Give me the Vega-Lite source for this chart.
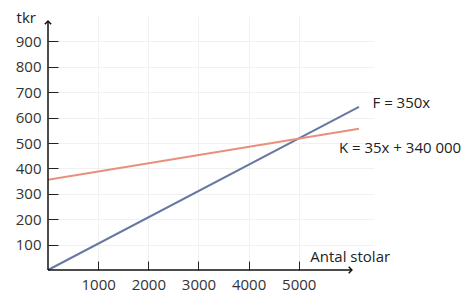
{
  "$schema": "https://vega.github.io/schema/vega-lite/v6.json",
  "width": 326,
  "height": 254,
  "autosize": {"type": "none"},
  "padding": {"left": 48, "top": 16, "right": 102, "bottom": 28},
  "background": "white",
  "config": {
    "view": {"stroke": null},
    "font": "Open Sans",
    "axis": {"labelOverlap": false, "labelSeparation": 0, "labelBound": false, "labelFlush": false}
  },
  "datasets": {
    "lines": [
      {"x": 0, "y": 0, "s": "F"},
      {"x": 6200, "y": 642, "s": "F"},
      {"x": 0, "y": 355, "s": "K"},
      {"x": 6200, "y": 556, "s": "K"}
    ],
    "axes": [
      {"x": 0, "y": 0, "x2": 6059, "y2": 0},
      {"x": 0, "y": 0, "x2": 0, "y2": 980}
    ],
    "arrowsY": [{"x": 0, "y": 980}],
    "arrowsX": [{"x": 6059, "y": 0}],
    "labels": [
      {"x": 6470, "y": 659, "t": "F = 350x"},
      {"x": 5800, "y": 482, "t": "K = 35x + 340 000"},
      {"x": 5230, "y": 53, "t": "Antal stolar"},
      {"x": -627, "y": 992, "t": "tkr"}
    ]
  },
  "layer": [
    {
      "data": {"name": "lines"},
      "mark": {"type": "line", "strokeWidth": 2},
      "encoding": {
        "x": {
          "field": "x", "type": "quantitative",
          "scale": {"domain": [0, 6400]},
          "axis": {
            "values": [1000, 2000, 3000, 4000, 5000], "format": "d", "tickCount": 10,
            "domain": false, "grid": true, "gridColor": "#f1f1f1",
            "tickSize": -9, "tickColor": "#222", "tickWidth": 1,
            "labelPadding": 16, "labelFontSize": 15, "labelColor": "#333",
            "labelOverlap": false, "title": null
          }
        },
        "y": {
          "field": "y", "type": "quantitative",
          "scale": {"domain": [0, 1000]},
          "axis": {
            "values": [100, 200, 300, 400, 500, 600, 700, 800, 900], "format": "d", "tickCount": 12,
            "domain": false, "grid": true, "gridColor": "#f1f1f1",
            "tickSize": -10, "tickColor": "#222", "tickWidth": 1,
            "labelPadding": 17, "labelFontSize": 15, "labelColor": "#333",
            "labelOverlap": false, "title": null
          }
        },
        "color": {
          "field": "s", "type": "nominal",
          "scale": {"domain": ["F", "K"], "range": ["#6878a2", "#e8907c"]},
          "legend": null
        }
      }
    },
    {
      "data": {"name": "axes"},
      "mark": {"type": "rule", "color": "#111", "strokeWidth": 1.5},
      "encoding": {
        "x": {"field": "x", "type": "quantitative"},
        "y": {"field": "y", "type": "quantitative"},
        "x2": {"field": "x2"},
        "y2": {"field": "y2"}
      }
    },
    {
      "data": {"name": "arrowsY"},
      "mark": {"type": "point", "shape": "M-1,1L0,0L1,1", "filled": false, "stroke": "#111", "strokeWidth": 1.5, "size": 40, "opacity": 1},
      "encoding": {
        "x": {"field": "x", "type": "quantitative"},
        "y": {"field": "y", "type": "quantitative"}
      }
    },
    {
      "data": {"name": "arrowsX"},
      "mark": {"type": "point", "shape": "M-1,-1L0,0L-1,1", "filled": false, "stroke": "#111", "strokeWidth": 1.5, "size": 40, "opacity": 1},
      "encoding": {
        "x": {"field": "x", "type": "quantitative"},
        "y": {"field": "y", "type": "quantitative"}
      }
    },
    {
      "data": {"name": "labels"},
      "mark": {"type": "text", "align": "left", "baseline": "middle", "fontSize": 15, "color": "#222"},
      "encoding": {
        "x": {"field": "x", "type": "quantitative"},
        "y": {"field": "y", "type": "quantitative"},
        "text": {"field": "t"}
      }
    }
  ]
}
